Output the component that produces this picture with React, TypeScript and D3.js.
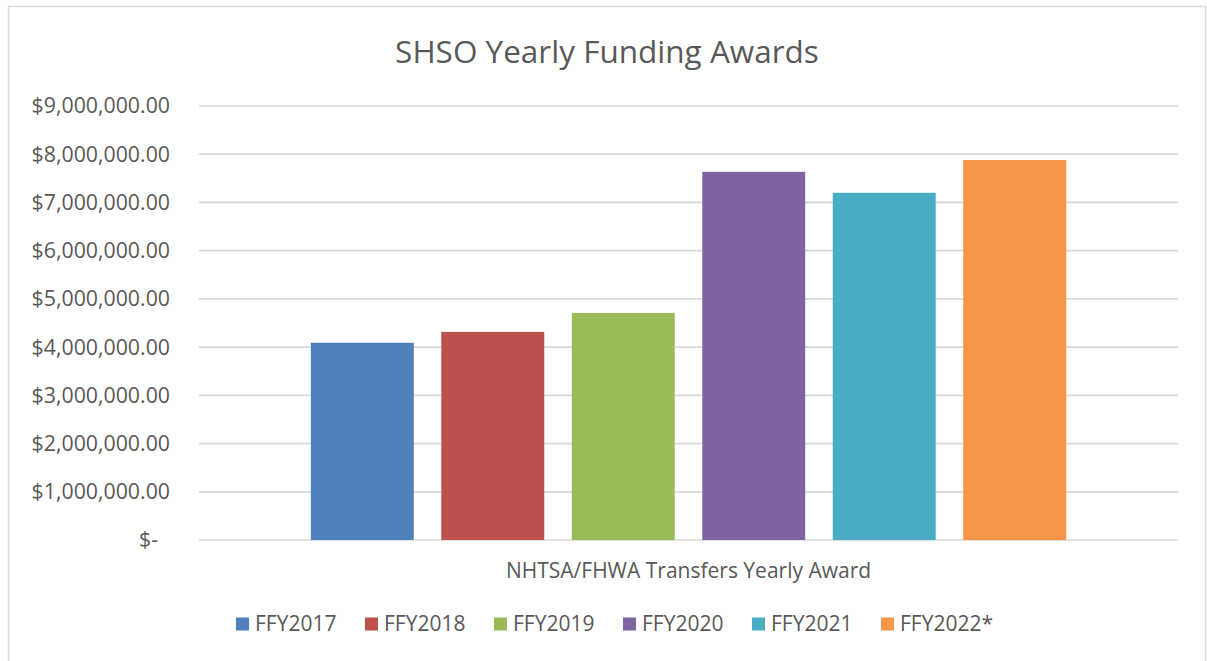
import * as d3 from 'd3';

const series = ['FFY2017', 'FFY2018', 'FFY2019', 'FFY2020', 'FFY2021', 'FFY2022*'];
const awards = [4090000, 4315000, 4710000, 7635000, 7200000, 7880000];
const colors = ['#4F81BD', '#C0504D', '#9BBB59', '#8064A2', '#4BACC6', '#F79646'];
const yTicks = [0, 1000000, 2000000, 3000000, 4000000, 5000000, 6000000, 7000000, 8000000, 9000000];
const category = 'NHTSA/FHWA Transfers Yearly Award';
const title = 'SHSO Yearly Funding Awards';

const W = 1207;
const H = 661;
const font = '"Open Sans", "DejaVu Sans", sans-serif';
const textColor = '#595959';

export default function App() {
  // plot area
  const left = 199;
  const right = 1178;
  const top = 106;
  const bottom = 540;

  const x = d3.scaleBand<string>()
    .domain(series)
    .range([left, right])
    .paddingInner(0.211)
    .paddingOuter(0.857);

  const y = d3.scaleLinear()
    .domain([0, 9000000])
    .range([bottom, top]);

  const fmt = (v: number) => v === 0 ? '$-' : '$' + d3.format(',.2f')(v);

  // legend layout
  const legendStart = 236;
  const legendStep = 129;
  const legendY = 624;

  return (
    <svg width={W} height={H} style={{ position: 'absolute', left: 0, top: 0, background: '#fff' }}>
      <rect x={8.5} y={6.5} width={1197} height={660} fill="#fff" stroke="#D9D9D9" strokeWidth={1.5} />

      <text x={607} y={52} dy="0.35em" textAnchor="middle" fontFamily={font} fontSize={31.5} fill={textColor}>
        {title}
      </text>

      {/* gridlines and tick labels */}
      {yTicks.map(t => (
        <g key={t}>
          <line x1={left} x2={right} y1={y(t)} y2={y(t)} stroke="#D9D9D9" strokeWidth={1.7} />
          <text
            x={t === 0 ? 158 : 170}
            y={y(t)}
            dy="0.35em"
            textAnchor="end"
            fontFamily={font}
            fontSize={21.3}
            fill={textColor}
          >
            {fmt(t)}
          </text>
        </g>
      ))}

      {/* bars */}
      {series.map((s, i) => (
        <rect
          key={s}
          x={x(s)}
          y={y(awards[i])}
          width={x.bandwidth()}
          height={bottom - y(awards[i])}
          fill={colors[i]}
        />
      ))}

      <text x={(left + right) / 2} y={571} dy="0.35em" textAnchor="middle" fontFamily={font} fontSize={21} fill={textColor}>
        {category}
      </text>

      {/* legend */}
      {series.map((s, i) => (
        <g key={s} transform={`translate(${legendStart + i * legendStep},${legendY})`}>
          <rect x={0} y={-6.5} width={13} height={13} fill={colors[i]} />
          <text x={19} y={0} dy="0.35em" fontFamily={font} fontSize={21} fill={textColor}>
            {s}
          </text>
        </g>
      ))}
    </svg>
  );
}
